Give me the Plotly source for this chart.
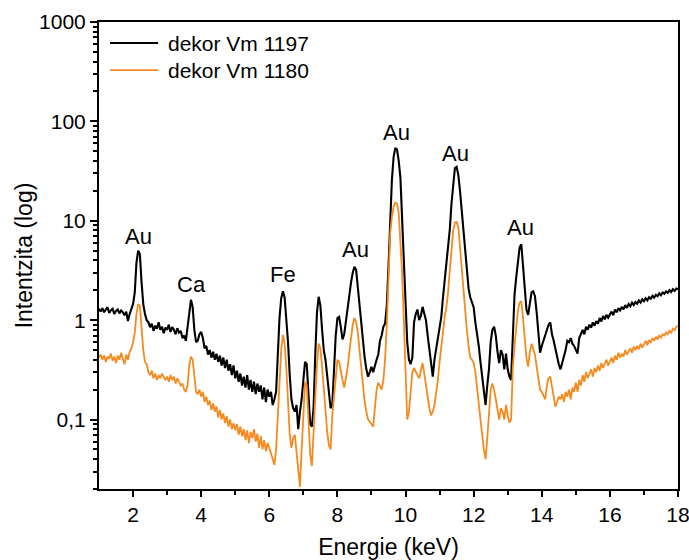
import math
import plotly.graph_objects as go

# Channel energies (keV), 0.05 keV channels from 1 to 18 keV
energy = [round(1 + 0.05 * i, 2) for i in range(341)]

# dekor Vm 1197 (black) - intensity read per channel
vm1197 = [
    1.30, 1.22, 1.32, 1.20, 1.28, 1.35, 1.18, 1.26, 1.30, 1.15, 1.24, 1.28, 1.17, 1.25, 1.20, 1.12, 1.22, 0.98, 1.15, 1.30,
    1.45, 1.90, 3.80, 5.00, 4.60, 2.40, 1.45, 1.15, 1.00, 0.95, 0.85, 0.92, 0.78, 0.88, 0.82, 0.95, 0.80, 0.86, 0.74, 0.84,
    0.80, 0.90, 0.76, 0.85, 0.80, 0.72, 0.83, 0.75, 0.78, 0.66, 0.70, 0.62, 0.85, 1.30, 1.60, 1.35, 0.80, 0.60, 0.62, 0.72,
    0.76, 0.66, 0.52, 0.55, 0.45, 0.50, 0.42, 0.48, 0.40, 0.46, 0.38, 0.44, 0.35, 0.42, 0.33, 0.40, 0.31, 0.36, 0.28, 0.35,
    0.26, 0.31, 0.24, 0.29, 0.22, 0.27, 0.21, 0.28, 0.20, 0.25, 0.19, 0.24, 0.18, 0.23, 0.19, 0.22, 0.16, 0.21, 0.15, 0.20,
    0.17, 0.19, 0.14, 0.16, 0.19, 0.45, 1.05, 1.65, 1.95, 1.70, 1.10, 0.60, 0.28, 0.16, 0.13, 0.12, 0.14, 0.08, 0.12, 0.16,
    0.25, 0.38, 0.36, 0.18, 0.09, 0.085, 0.13, 0.45, 1.20, 1.72, 1.40, 0.80, 0.50, 0.40, 0.28, 0.17, 0.13, 0.14, 0.30, 0.70,
    1.05, 1.08, 0.85, 0.64, 0.72, 1.00, 1.40, 1.90, 2.40, 3.00, 3.45, 3.20, 2.10, 1.30, 0.85, 0.60, 0.42, 0.32, 0.27, 0.30,
    0.34, 0.30, 0.36, 0.40, 0.45, 0.62, 0.70, 0.86, 0.92, 1.40, 3.50, 9.50, 26.0, 44.0, 54.0, 52.0, 40.0, 27.0, 11.0, 4.00,
    1.60, 0.60, 0.40, 0.36, 0.42, 0.95, 1.15, 1.28, 1.00, 1.10, 1.36, 1.20, 1.00, 0.70, 0.50, 0.37, 0.27, 0.40, 0.52, 0.62,
    0.80, 1.08, 1.70, 2.55, 3.60, 4.80, 8.20, 15.0, 25.0, 34.0, 35.0, 29.0, 20.0, 13.0, 8.20, 4.80, 3.00, 2.10, 1.70, 1.50,
    1.35, 0.95, 0.75, 0.55, 0.38, 0.27, 0.19, 0.14, 0.22, 0.32, 0.60, 0.80, 0.86, 0.70, 0.48, 0.37, 0.50, 0.45, 0.32, 0.46,
    0.32, 0.27, 0.25, 0.70, 1.80, 2.70, 4.20, 5.40, 5.80, 3.40, 2.00, 1.28, 1.13, 1.50, 1.90, 1.95, 1.74, 1.20, 0.80, 0.47,
    0.55, 0.62, 0.72, 0.80, 0.90, 0.95, 0.72, 0.62, 0.50, 0.43, 0.36, 0.32, 0.37, 0.42, 0.50, 0.62, 0.60, 0.66, 0.58, 0.55,
    0.50, 0.46, 0.66, 0.74, 0.80, 0.72, 0.86, 0.80, 0.90, 0.84, 0.95, 0.88, 0.98, 0.92, 1.05, 0.97, 1.10, 1.02, 1.13, 1.06,
    1.15, 1.22, 1.12, 1.28, 1.20, 1.32, 1.25, 1.36, 1.28, 1.42, 1.33, 1.45, 1.38, 1.50, 1.42, 1.52, 1.46, 1.58, 1.50, 1.62,
    1.55, 1.66, 1.58, 1.70, 1.64, 1.76, 1.68, 1.80, 1.74, 1.86, 1.78, 1.90, 1.84, 1.95, 1.88, 2.00, 1.92, 2.05, 1.97, 2.08,
    2.05,
]

# dekor Vm 1180 (orange)
vm1180 = [
    0.42, 0.45, 0.40, 0.44, 0.38, 0.43, 0.41, 0.46, 0.39, 0.43, 0.37, 0.44, 0.40, 0.47, 0.41, 0.36, 0.45, 0.40, 0.48, 0.52,
    0.60, 0.75, 1.15, 1.45, 1.40, 0.85, 0.50, 0.38, 0.36, 0.30, 0.28, 0.31, 0.26, 0.29, 0.25, 0.28, 0.26, 0.29, 0.27, 0.25,
    0.27, 0.24, 0.28, 0.25, 0.27, 0.23, 0.26, 0.24, 0.22, 0.23, 0.20, 0.19, 0.22, 0.35, 0.43, 0.40, 0.26, 0.19, 0.18, 0.20,
    0.17, 0.19, 0.15, 0.17, 0.14, 0.155, 0.125, 0.145, 0.12, 0.135, 0.105, 0.125, 0.10, 0.115, 0.092, 0.108, 0.085, 0.10, 0.08, 0.092,
    0.078, 0.09, 0.07, 0.085, 0.068, 0.08, 0.062, 0.078, 0.058, 0.075, 0.065, 0.08, 0.06, 0.072, 0.052, 0.068, 0.05, 0.062, 0.048, 0.058,
    0.052, 0.045, 0.038, 0.035, 0.05, 0.10, 0.22, 0.50, 0.71, 0.58, 0.33, 0.14, 0.07, 0.052, 0.065, 0.07, 0.045, 0.035, 0.021, 0.05,
    0.11, 0.24, 0.22, 0.11, 0.045, 0.034, 0.075, 0.18, 0.36, 0.58, 0.52, 0.34, 0.20, 0.11, 0.075, 0.055, 0.05, 0.11, 0.18, 0.30,
    0.40, 0.38, 0.32, 0.25, 0.21, 0.26, 0.33, 0.48, 0.68, 0.90, 1.05, 0.95, 0.74, 0.48, 0.32, 0.20, 0.15, 0.12, 0.10, 0.095,
    0.09, 0.085, 0.13, 0.20, 0.235, 0.22, 0.20, 0.25, 0.40, 0.90, 3.00, 7.50, 11.0, 14.0, 15.2, 14.8, 12.0, 6.50, 3.00, 1.00,
    0.30, 0.10, 0.12, 0.20, 0.30, 0.33, 0.30, 0.28, 0.26, 0.31, 0.37, 0.29, 0.22, 0.17, 0.13, 0.11, 0.12, 0.14, 0.18, 0.25,
    0.38, 0.54, 0.80, 1.08, 1.35, 1.90, 3.20, 5.50, 8.00, 9.60, 9.70, 8.60, 5.20, 3.20, 2.00, 1.20, 0.80, 0.55, 0.42, 0.40,
    0.37, 0.30, 0.20, 0.15, 0.10, 0.07, 0.05, 0.04, 0.065, 0.11, 0.20, 0.23, 0.20, 0.16, 0.12, 0.10, 0.13, 0.12, 0.10, 0.14,
    0.11, 0.093, 0.10, 0.33, 0.55, 0.85, 1.25, 1.50, 1.55, 1.05, 0.64, 0.42, 0.34, 0.48, 0.58, 0.52, 0.45, 0.34, 0.25, 0.20,
    0.19, 0.17, 0.16, 0.22, 0.26, 0.27, 0.22, 0.17, 0.135, 0.15, 0.17, 0.16, 0.18, 0.15, 0.19, 0.17, 0.20, 0.16, 0.21, 0.19,
    0.235, 0.19, 0.25, 0.22, 0.28, 0.24, 0.30, 0.26, 0.29, 0.32, 0.27, 0.33, 0.30, 0.35, 0.31, 0.37, 0.33, 0.36, 0.40, 0.35,
    0.38, 0.42, 0.37, 0.44, 0.40, 0.47, 0.42, 0.46, 0.43, 0.50, 0.45, 0.48, 0.52, 0.47, 0.54, 0.50, 0.55, 0.51, 0.58, 0.53,
    0.57, 0.62, 0.56, 0.63, 0.60, 0.66, 0.62, 0.68, 0.64, 0.70, 0.67, 0.72, 0.70, 0.75, 0.72, 0.78, 0.75, 0.82, 0.79, 0.86,
    0.87,
]

series_names = ["dekor Vm 1197", "dekor Vm 1180"]
series_colors = ["#000000", "#F58A1F"]

# Peak labels: element, energy (keV), label height (intensity)
peak_labels = ["Au", "Ca", "Fe", "Au", "Au", "Au", "Au"]
peak_energy = [2.17, 3.72, 6.40, 8.52, 9.73, 11.46, 13.39]
peak_label_y = [7.0, 2.27, 2.9, 5.1, 77, 47, 8.5]

y_tickvals = [0.1, 1, 10, 100, 1000]
y_ticktext = ["0,1", "1", "10", "100", "1000"]
y_minor = [m * d for d in (0.01, 0.1, 1, 10, 100) for m in range(2, 10)]

FONT = "Liberation Sans, Arial, sans-serif"

fig = go.Figure()
for yv, nm, col, w in zip([vm1197, vm1180], series_names, series_colors, [2.1, 1.8]):
    fig.add_trace(go.Scatter(x=energy, y=yv, mode="lines", name=nm, showlegend=False,
                             line=dict(color=col, width=w)))

for lab, ex, ey in zip(peak_labels, peak_energy, peak_label_y):
    fig.add_annotation(x=ex, y=math.log10(ey), text=lab, showarrow=False,
                       font=dict(family=FONT, size=22, color="#000"), yanchor="middle")

# Legend drawn in the upper-left corner (paper coordinates)
leg_y = [0.955, 0.897]
for nm, col, ly in zip(series_names, series_colors, leg_y):
    fig.add_shape(type="line", xref="paper", yref="paper", x0=0.019, x1=0.102, y0=ly, y1=ly,
                  line=dict(color=col, width=1.8))
    fig.add_annotation(xref="paper", yref="paper", x=0.115, y=ly, text=nm, showarrow=False,
                       xanchor="left", yanchor="middle",
                       font=dict(family=FONT, size=21, color="#000"))

fig.update_layout(
    width=689, height=560,
    margin=dict(l=99, r=11, t=22, b=71),
    paper_bgcolor="white", plot_bgcolor="white",
    font=dict(family=FONT, size=20, color="#000"),
    showlegend=False,
)
fig.update_xaxes(range=[1, 18], tickvals=[2, 4, 6, 8, 10, 12, 14, 16, 18],
                 ticks="outside", ticklen=6, tickwidth=1.5, tickcolor="#000",
                 minor=dict(tickvals=[3, 5, 7, 9, 11, 13, 15, 17], ticks="outside", ticklen=4, tickcolor="#000"),
                 showline=True, linecolor="#000", linewidth=2, mirror=True,
                 showgrid=False, zeroline=False, automargin=False, ticklabeloverflow="allow",
                 tickfont=dict(size=21),
                 title=dict(text="Energie (keV)", font=dict(size=23), standoff=15))
fig.update_yaxes(type="log", range=[-1.699, 3], tickvals=y_tickvals, ticktext=y_ticktext,
                 ticks="outside", ticklen=7, tickwidth=1.5, tickcolor="#000",
                 minor=dict(tickvals=y_minor, ticks="outside", ticklen=4, tickcolor="#000"),
                 showline=True, linecolor="#000", linewidth=2, mirror=True,
                 showgrid=False, zeroline=False, automargin=False, ticklabeloverflow="allow",
                 tickfont=dict(size=21),
                 title=dict(text="Intentzita (log)", font=dict(size=23), standoff=0))

fig.write_html("out.html", config={"displayModeBar": False},
               post_script="document.body.style.margin='0';document.body.style.padding='0';document.body.style.overflow='hidden';")
